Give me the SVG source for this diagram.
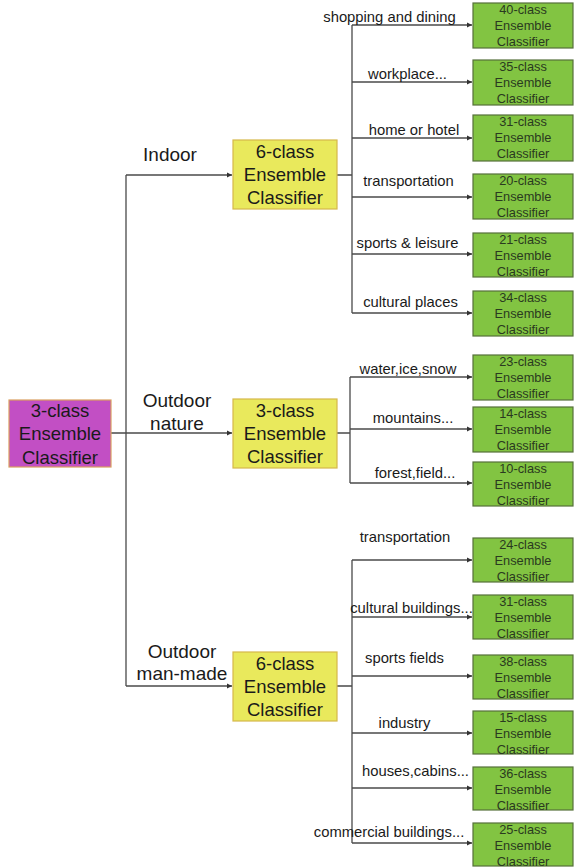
<svg xmlns="http://www.w3.org/2000/svg" width="576" height="868" viewBox="0 0 576 868">
<defs>
<marker id="ah" markerWidth="6" markerHeight="6" refX="5" refY="3" orient="auto" markerUnits="userSpaceOnUse">
<path d="M0,0.5 L5,3 L0,5.5 Z" fill="#333"/>
</marker>
<style>
text{font-family:"Liberation Sans",Arial,sans-serif;fill:#1a1a1a;text-anchor:middle;dominant-baseline:central}
.big{font-size:18.5px}
.lab{font-size:19px}
.br{font-size:14.8px}
.sm{font-size:12.8px;fill:#2a3a20}
.root{fill:#c24fc4;stroke:#d9a060;stroke-width:1.2}
.mid{fill:#e9e95c;stroke:#d6b84a;stroke-width:1.2}
.leaf{fill:#82c442;stroke:#55703a;stroke-width:1.2}
.c{fill:none;stroke:#4a4a4a;stroke-width:1.3}
.ca{fill:none;stroke:#4a4a4a;stroke-width:1.3;marker-end:url(#ah)}
</style>
</defs>
<rect width="576" height="868" fill="#fff"/>

<g id="connectors">
<path class="c" d="M111,433 H126 M126,175 V686"/>
<path class="ca" d="M126,175 H232"/>
<path class="ca" d="M126,433 H232"/>
<path class="ca" d="M126,686 H232"/>
<path class="c" d="M337,175 H352 M352,25 V313"/>
<path class="ca" d="M352,25 H472"/>
<path class="ca" d="M352,82 H472"/>
<path class="ca" d="M352,138 H472"/>
<path class="ca" d="M352,197 H472"/>
<path class="ca" d="M352,254 H472"/>
<path class="ca" d="M352,313 H472"/>
<path class="c" d="M337,433 H350 M350,377 V483"/>
<path class="ca" d="M350,377 H472"/>
<path class="ca" d="M350,429 H472"/>
<path class="ca" d="M350,483 H472"/>
<path class="c" d="M337,686 H352 M352,560 V843"/>
<path class="ca" d="M352,560 H472"/>
<path class="ca" d="M352,617 H472"/>
<path class="ca" d="M352,676 H472"/>
<path class="ca" d="M352,733 H472"/>
<path class="ca" d="M352,788 H472"/>
<path class="ca" d="M352,843 H472"/>
</g>

<g id="labels">
<text class="lab" x="170" y="154">Indoor</text>
<text class="lab" x="177" y="400">Outdoor</text>
<text class="lab" x="177" y="423">nature</text>
<text class="lab" x="182" y="651">Outdoor</text>
<text class="lab" x="182" y="673">man-made</text>
<text class="br" x="389.5" y="17">shopping and dining</text>
<text class="br" x="407.5" y="74">workplace...</text>
<text class="br" x="414" y="130">home or hotel</text>
<text class="br" x="408.5" y="181">transportation</text>
<text class="br" x="407.5" y="243">sports &amp; leisure</text>
<text class="br" x="410.5" y="302">cultural places</text>
<text class="br" x="408" y="369">water,ice,snow</text>
<text class="br" x="413" y="418">mountains...</text>
<text class="br" x="415" y="473">forest,field...</text>
<text class="br" x="405" y="537">transportation</text>
<text class="br" x="411.5" y="608">cultural buildings...</text>
<text class="br" x="404.5" y="658">sports fields</text>
<text class="br" x="404.5" y="723">industry</text>
<text class="br" x="415.5" y="771">houses,cabins...</text>
<text class="br" x="389" y="832">commercial buildings...</text>
</g>

<g id="root">
<rect class="root" x="9" y="400" width="102" height="67"/>
<text class="big" x="60" y="410">3-class</text>
<text class="big" x="60" y="433">Ensemble</text>
<text class="big" x="60" y="457">Classifier</text>
</g>

<g id="indoor">
<rect class="mid" x="233" y="140" width="104" height="69"/>
<text class="big" x="285" y="151">6-class</text>
<text class="big" x="285" y="174">Ensemble</text>
<text class="big" x="285" y="197">Classifier</text>
</g>
<g id="nature">
<rect class="mid" x="233" y="399" width="104" height="69"/>
<text class="big" x="285" y="410">3-class</text>
<text class="big" x="285" y="433">Ensemble</text>
<text class="big" x="285" y="456">Classifier</text>
</g>
<g id="manmade">
<rect class="mid" x="233" y="652" width="104" height="69"/>
<text class="big" x="285" y="663">6-class</text>
<text class="big" x="285" y="686">Ensemble</text>
<text class="big" x="285" y="709">Classifier</text>
</g>

<g id="leaf40"><rect class="leaf" x="473" y="3" width="100" height="45"/><text class="sm" x="523" y="9">40-class</text><text class="sm" x="523" y="25.5">Ensemble</text><text class="sm" x="523" y="41.5">Classifier</text></g>
<g id="leaf35"><rect class="leaf" x="473" y="60" width="100" height="45"/><text class="sm" x="523" y="66">35-class</text><text class="sm" x="523" y="82.5">Ensemble</text><text class="sm" x="523" y="98.5">Classifier</text></g>
<g id="leaf31a"><rect class="leaf" x="473" y="115" width="100" height="46"/><text class="sm" x="523" y="121">31-class</text><text class="sm" x="523" y="137.5">Ensemble</text><text class="sm" x="523" y="153.5">Classifier</text></g>
<g id="leaf20"><rect class="leaf" x="473" y="174" width="100" height="45"/><text class="sm" x="523" y="180">20-class</text><text class="sm" x="523" y="196.5">Ensemble</text><text class="sm" x="523" y="212.5">Classifier</text></g>
<g id="leaf21"><rect class="leaf" x="473" y="233" width="100" height="44"/><text class="sm" x="523" y="239">21-class</text><text class="sm" x="523" y="255.5">Ensemble</text><text class="sm" x="523" y="271.5">Classifier</text></g>
<g id="leaf34"><rect class="leaf" x="473" y="291" width="100" height="45"/><text class="sm" x="523" y="297">34-class</text><text class="sm" x="523" y="313.5">Ensemble</text><text class="sm" x="523" y="329.5">Classifier</text></g>

<g id="leaf23"><rect class="leaf" x="473" y="355" width="100" height="45"/><text class="sm" x="523" y="361">23-class</text><text class="sm" x="523" y="377.5">Ensemble</text><text class="sm" x="523" y="393.5">Classifier</text></g>
<g id="leaf14"><rect class="leaf" x="473" y="407" width="100" height="45"/><text class="sm" x="523" y="413">14-class</text><text class="sm" x="523" y="429.5">Ensemble</text><text class="sm" x="523" y="445.5">Classifier</text></g>
<g id="leaf10"><rect class="leaf" x="473" y="462" width="100" height="44"/><text class="sm" x="523" y="468">10-class</text><text class="sm" x="523" y="484.5">Ensemble</text><text class="sm" x="523" y="500.5">Classifier</text></g>

<g id="leaf24"><rect class="leaf" x="473" y="538" width="100" height="44"/><text class="sm" x="523" y="544">24-class</text><text class="sm" x="523" y="560.5">Ensemble</text><text class="sm" x="523" y="576.5">Classifier</text></g>
<g id="leaf31b"><rect class="leaf" x="473" y="595" width="100" height="44"/><text class="sm" x="523" y="601">31-class</text><text class="sm" x="523" y="617.5">Ensemble</text><text class="sm" x="523" y="633.5">Classifier</text></g>
<g id="leaf38"><rect class="leaf" x="473" y="655" width="100" height="44"/><text class="sm" x="523" y="661">38-class</text><text class="sm" x="523" y="677.5">Ensemble</text><text class="sm" x="523" y="693.5">Classifier</text></g>
<g id="leaf15"><rect class="leaf" x="473" y="711" width="100" height="43"/><text class="sm" x="523" y="717">15-class</text><text class="sm" x="523" y="733.5">Ensemble</text><text class="sm" x="523" y="749.5">Classifier</text></g>
<g id="leaf36"><rect class="leaf" x="473" y="767" width="100" height="43"/><text class="sm" x="523" y="773">36-class</text><text class="sm" x="523" y="789.5">Ensemble</text><text class="sm" x="523" y="805.5">Classifier</text></g>
<g id="leaf25"><rect class="leaf" x="473" y="823" width="100" height="43"/><text class="sm" x="523" y="829">25-class</text><text class="sm" x="523" y="845.5">Ensemble</text><text class="sm" x="523" y="861.5">Classifier</text></g>
</svg>
